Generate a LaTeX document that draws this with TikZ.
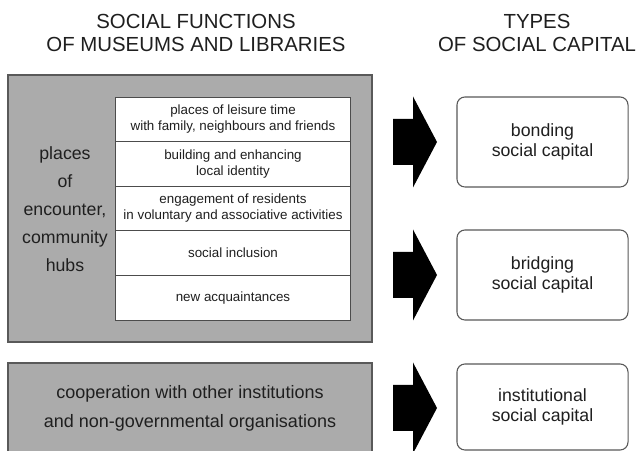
\documentclass[tikz,border=0pt]{standalone}
\usepackage{fontspec}
\setmainfont{Liberation Sans}
\usetikzlibrary{positioning}

\begin{document}
\begin{tikzpicture}[x=0.025cm,y=-0.025cm,
  every node/.style={text=black!88},
  heading/.style={align=center,font=\fontsize{14.5}{17}\selectfont},
  panel/.style={draw=black!65,fill=black!33,line width=0.8pt,minimum width=9.1cm},
  row/.style={draw=black!70,fill=white,line width=0.7pt,minimum width=5.85cm,
    minimum height=1.115cm,inner sep=0pt,outer sep=0pt,align=center,
    font=\fontsize{9.5}{11.4}\selectfont},
  capbox/.style={draw=black!65,fill=white,rounded corners=0.2cm,line width=0.75pt,
    minimum width=4.275cm,minimum height=2.25cm,align=center,
    font=\fontsize{12.6}{14.2}\selectfont}]

\useasboundingbox (0,0) rectangle (638,451);
\fill[white] (0,0) rectangle (638,451);
\clip (0,0) rectangle (638,451);

% column headings
\node[heading] (functions) at (196,33) {SOCIAL FUNCTIONS\\OF MUSEUMS AND LIBRARIES};
\node[heading] (types) at (537,33) {TYPES\\OF SOCIAL CAPITAL};

% grey panels on the left
\node[panel,minimum height=6.675cm] (hubs) at (190,208.5) {};
\node[panel,minimum height=2.25cm,align=center,
  font=\fontsize{12.8}{20.6}\selectfont] (coop) at (190,408)
  {cooperation with other institutions\\and non-governmental organisations};
\node[align=center,font=\fontsize{12.6}{19.9}\selectfont] (places) at (65,209)
  {places\\of\\encounter,\\community\\hubs};

% stacked functions
\node[row,anchor=north] (leisure) at (233,97) {places of leisure time\\with family, neighbours and friends};
\node[row,below=0pt of leisure] (identity) {building and enhancing\\local identity};
\node[row,below=0pt of identity] (engagement) {engagement of residents\\in voluntary and associative activities};
\node[row,below=0pt of engagement] (inclusion) {social inclusion};
\node[row,below=0pt of inclusion] (acquaint) {new acquaintances};

% types of capital
\node[capbox] (bonding) at (542.5,142) {bonding\\social capital};
\node[capbox] (bridging) at (542.5,275) {bridging\\social capital};
\node[capbox,minimum height=2.15cm] (institutional) at (542.5,407) {institutional\\social capital};

% block arrows
\foreach \y in {142,275,408}
  \fill[black] (393,\y-23) -- (413,\y-23) -- (413,\y-45.5) -- (437,\y)
    -- (413,\y+45.5) -- (413,\y+23) -- (393,\y+23) -- cycle;
\end{tikzpicture}
\end{document}
